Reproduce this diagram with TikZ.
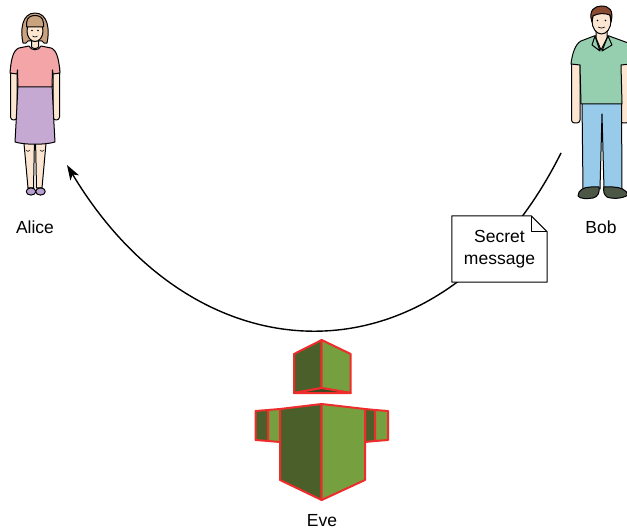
\documentclass[tikz,border=0pt]{standalone}
\usepackage{fontspec}
\setmainfont{Liberation Sans}
\usetikzlibrary{arrows.meta,calc}

\definecolor{skin}{HTML}{FCE6D2}
\definecolor{alicehair}{HTML}{C9A27E}
\definecolor{aliceshirt}{HTML}{F3A5A8}
\definecolor{aliceskirt}{HTML}{C6A9D3}
\definecolor{aliceshoe}{HTML}{B8A1D0}
\definecolor{bobhair}{HTML}{8A4B32}
\definecolor{bobshirt}{HTML}{95CFB0}
\definecolor{bobpants}{HTML}{98CBEA}
\definecolor{bobshoe}{HTML}{4D5746}
\definecolor{evedark}{HTML}{4B5F2B}
\definecolor{evelight}{HTML}{76A040}
\definecolor{evebottom}{HTML}{3A4A20}
\definecolor{evered}{HTML}{EE2C2C}

\tikzset{
  outline/.style={draw=black, line width=1pt, line join=round},
  evepart/.style={draw=evered, line width=2pt, line join=round},
  label/.style={font=\fontsize{17.5}{20}\selectfont, inner sep=0pt},
  notebox/.style={minimum width=95pt, minimum height=66pt, inner sep=0pt,
    align=center, font=\fontsize{17.5}{22}\selectfont},
  msgline/.style={line width=1.4pt, -{Stealth[length=15pt,width=10pt,inset=4pt]}}
}

\begin{document}
\begin{tikzpicture}[x=1pt,y=-1pt]
\useasboundingbox (0,0) rectangle (627,532);
\clip (0,0) rectangle (627,532);

% ---------- Alice ----------
\begin{scope}
  % arms
  \draw[outline, fill=skin, rounded corners=3pt] (10.5,64) rectangle (17,120);
  \draw[outline, fill=skin, rounded corners=3pt] (53,64) rectangle (59.5,120);
  % legs
  \draw[outline, fill=skin] (23.5,138) -- (34.5,138) -- (33.5,188) -- (28,188) -- cycle;
  \draw[outline, fill=skin] (35.5,138) -- (46.5,138) -- (42,188) -- (36.5,188) -- cycle;
  \draw[line width=0.5pt] (26,150) .. controls (28,152) .. (30,150);
  \draw[line width=0.5pt] (40,150) .. controls (42,152) .. (44,150);
  % shoes
  \draw[outline, fill=aliceshoe] (31,191.5) ellipse (4.8pt and 3.6pt);
  \draw[outline, fill=aliceshoe] (40.5,191.5) ellipse (4.8pt and 3.6pt);
  % skirt
  \draw[outline, fill=aliceskirt] (18,84) -- (52,84)
    .. controls (53,105) and (54,125) .. (55,142)
    .. controls (45,145) and (25,145) .. (15,142)
    .. controls (16,125) and (17,105) .. (18,84) -- cycle;
  % shirt
  \draw[outline, fill=aliceshirt] (29,46) -- (19,48)
    .. controls (13,50) and (11,60) .. (10,73) -- (17,74) -- (17.5,70)
    -- (18,87) -- (52,87) -- (52.5,70) -- (53,74) -- (60,73)
    .. controls (59,60) and (57,50) .. (51,48) -- (41,46)
    .. controls (39,51) and (31,51) .. (29,46) -- cycle;
  % neck
  \draw[outline, fill=skin] (31.5,38) -- (31.5,47) .. controls (33,49) and (37,49) .. (38.5,47) -- (38.5,38);
  % hair behind the face
  \draw[outline, fill=alicehair] (23,43)
    .. controls (20,30) and (22,13) .. (35,13)
    .. controls (48,13) and (50,30) .. (47,43)
    .. controls (45,44) and (43,43) .. (42,41) -- (28,41)
    .. controls (27,43) and (25,44) .. (23,43) -- cycle;
  % face
  \draw[outline, fill=skin] (35,31) ellipse (8pt and 10.5pt);
  % fringe
  \draw[outline, fill=alicehair] (26.5,27) -- (43.5,27) -- (43.5,23)
    .. controls (43,17) and (39,15.5) .. (35,15.5)
    .. controls (31,15.5) and (27,17) .. (26.5,23) -- cycle;
  \fill (32,30.5) circle (0.9pt) (38,30.5) circle (0.9pt);
  \draw[line width=0.6pt] (32.5,36) .. controls (34,37.5) and (36,37.5) .. (37.5,36);
\end{scope}

% ---------- Bob ----------
\begin{scope}
  % arms
  \draw[outline, fill=skin, rounded corners=3pt] (571.5,58) rectangle (580,123);
  \draw[outline, fill=skin, rounded corners=3pt] (620,58) rectangle (629,123);
  % trousers
  \draw[outline, fill=bobpants] (582,101) -- (621.5,101) -- (622,189) -- (604,189)
    -- (602,114) -- (600,189) -- (583,189) -- cycle;
  % shoes
  \draw[outline, fill=bobshoe] (578,196) .. controls (578,190) and (584,187) .. (591,187)
    -- (599,187) .. controls (600,192) and (598,197) .. (593,198)
    .. controls (587,199) and (580,199) .. (578,196) -- cycle;
  \draw[outline, fill=bobshoe] (604,187) -- (613,187)
    .. controls (620,187) and (627,190) .. (628,195)
    .. controls (622,199) and (612,199) .. (607,197)
    .. controls (604,195) and (603,191) .. (604,187) -- cycle;
  % shirt
  \draw[outline, fill=bobshirt] (594,36) -- (581,41)
    .. controls (575,44) and (572,55) .. (571,64) -- (580,65) -- (581,104)
    -- (622,104) -- (621,65) -- (631,64) -- (631,44) -- (609,36) -- cycle;
  % neck
  \draw[outline, fill=skin] (596,29) -- (596,38) -- (601,50) -- (607,38) -- (607,29);
  % collar
  \draw[outline, fill=bobshirt] (595,36) -- (592,45) -- (600,51) -- cycle;
  \draw[outline, fill=bobshirt] (608,36) -- (612,45) -- (602,51) -- cycle;
  % head
  \draw[outline, fill=skin] (601.5,21) ellipse (9.5pt and 13pt);
  % hair
  \draw[outline, fill=bobhair] (592,22)
    .. controls (588,10) and (595,6) .. (601.5,6)
    .. controls (609,6) and (614,10) .. (611,22)
    -- (610,15) .. controls (605,13) and (598,13) .. (593,16) -- cycle;
  \fill (597.5,20.5) circle (0.9pt) (605.5,20.5) circle (0.9pt);
  \draw[line width=0.6pt] (598,27) .. controls (600,28.5) and (603,28.5) .. (605,27);
\end{scope}

% ---------- Eve ----------
\begin{scope}
  % head
  \draw[evepart, fill=evedark] (294,354) -- (321.7,340) -- (321.7,388) -- (294,393) -- cycle;
  \draw[evepart, fill=evelight] (321.7,340) -- (350.7,354) -- (350.7,393) -- (321.7,388) -- cycle;
  \draw[evepart, fill=evebottom] (294,393) -- (321.7,388) -- (350.7,393) -- cycle;
  % arms
  \draw[evepart, fill=evedark] (255.5,411) -- (268,410) -- (268,441) -- (255.5,440) -- cycle;
  \draw[evepart, fill=evelight] (268,410) -- (280,409) -- (280,442) -- (268,441) -- cycle;
  \draw[evepart, fill=evedark] (365,409) -- (375,410) -- (375,441) -- (365,442) -- cycle;
  \draw[evepart, fill=evelight] (375,410) -- (388,411) -- (388,440) -- (375,441) -- cycle;
  % body
  \draw[evepart, fill=evedark] (280,409) -- (321.7,404) -- (321.7,500) -- (280,480) -- cycle;
  \draw[evepart, fill=evelight] (321.7,404) -- (365,409) -- (365,480) -- (321.7,500) -- cycle;
\end{scope}

% ---------- labels ----------
\node[label] (alice) at (35,227) {Alice};
\node[label] (bob) at (601,227) {Bob};
\node[label] (eve) at (322,521) {Eve};

% ---------- message path ----------
\coordinate (bobhand) at (561,153);
\coordinate (alicetip) at (67,165);
\draw[msgline] (bobhand) .. controls (444,387) and (200,387) .. (alicetip);

% note with folded corner
\node[notebox, fill=white] (note) at (499.5,249) {Secret\\message};
\draw[line width=1pt, line join=round, fill=white]
  (note.south west) -- (note.north west) -- ($(note.north east)+(-16,0)$)
  -- ($(note.north east)+(0,16)$) -- (note.south east) -- cycle;
\draw[line width=1pt, line join=round]
  ($(note.north east)+(-16,0)$) -- ($(note.north east)+(-16,16)$) -- ($(note.north east)+(0,16)$);
\node[notebox] at (note.center) {Secret\\message};
\end{tikzpicture}
\end{document}
